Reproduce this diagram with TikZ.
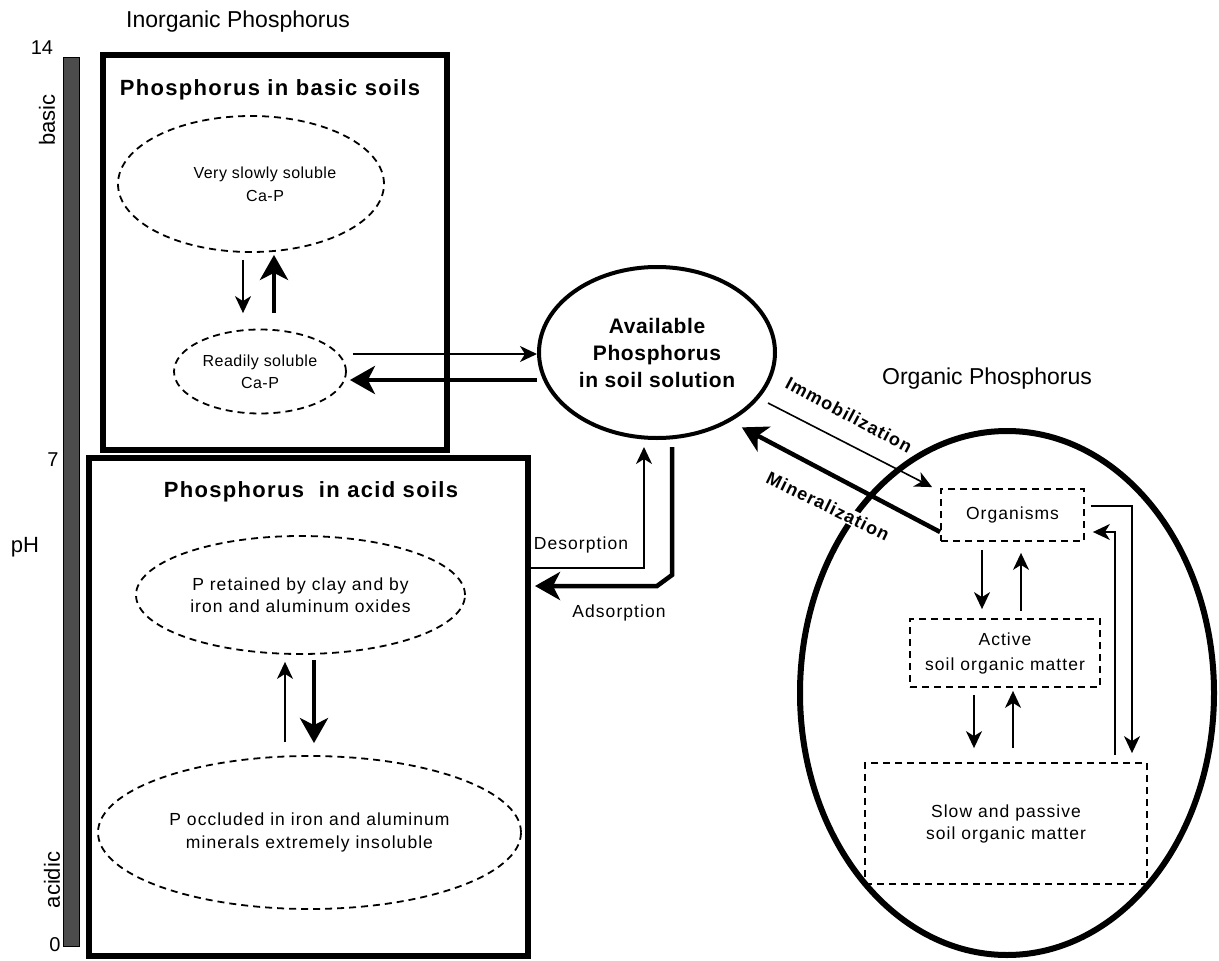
\documentclass[tikz,border=0pt]{standalone}
\usepackage{fontspec}
\setmainfont{Liberation Sans}
\newfontfamily\lsA[LetterSpace=6]{Liberation Sans}
\newfontfamily\lsB[LetterSpace=3]{Liberation Sans}
\usetikzlibrary{arrows.meta,shapes.geometric}
\newcommand\fsz[2]{\fontsize{#1}{#2}\selectfont}
\begin{document}
\begin{tikzpicture}[x=1pt,y=-1pt,
  thinarr/.style={line width=1.6pt,-{Stealth[length=17pt,width=16pt,inset=5pt]}},
  thickarr/.style={line width=4.5pt,-{Stealth[length=25pt,width=28pt,inset=7pt]}},
  soilbox/.style={draw,line width=6pt,rectangle,inner sep=0pt},
  dashell/.style={draw,ellipse,line width=1.8pt,dash pattern=on 7pt off 5pt,inner sep=0pt,align=center},
  dashbox/.style={draw,rectangle,line width=1.8pt,dash pattern=on 7pt off 5pt,inner sep=0pt,align=center},
  title/.style={font={\lsA\bfseries\fsz{22}{26}},inner sep=0pt},
  plain/.style={font={\fsz{22}{26}},inner sep=0pt},
  small/.style={font={\lsA\fsz{17.5}{22}},inner sep=0pt,align=center},
  flowlbl/.style={font={\lsA\bfseries\fsz{18}{22}},inner sep=1pt,fill=white}
]
\useasboundingbox (0,0) rectangle (1219,961);

% pH scale
\node[draw=black,line width=1pt,fill=black!70,minimum width=16pt,minimum height=889pt,inner sep=0pt] (phbar) at (71,501.5) {};
\node[plain,font={\fsz{20}{24}}] (n14) at (42,48) {14};
\node[plain,font={\fsz{20}{24}}] (n7) at (53,460) {7};
\node[plain,font={\fsz{20}{24}}] (n0) at (55,945) {0};
\node[plain,rotate=90] (basic) at (47,120) {basic};
\node[plain,rotate=90] (acidic) at (52,880) {acidic};
\node[plain] (ph) at (25,547) {pH};

% section titles
\node[plain,font={\fsz{23}{27}}] (inorg) at (238,22) {Inorganic Phosphorus};
\node[plain,font={\fsz{23}{27}}] (orgtitle) at (987,379) {Organic Phosphorus};

% basic soils
\node[soilbox,minimum width=343.5pt,minimum height=395pt] (basicbox) at (274.75,252.5) {};
\node[title] (tbasic) at (270,90) {Phosphorus in basic soils};
\node[dashell,minimum width=266pt,minimum height=136pt,font={\lsB\fsz{16}{23}}] (vs) at (251,184) {\hspace*{28pt}Very slowly soluble\\\hspace*{28pt}Ca-P};
\node[dashell,minimum width=172pt,minimum height=84pt,font={\lsB\fsz{16}{22}}] (rs) at (260,371.5) {Readily soluble\\Ca-P};

% acid soils
\node[soilbox,minimum width=439pt,minimum height=498pt] (acidbox) at (308.5,707) {};
\node[title] (tacid) at (311,492) {Phosphorus\ \ in acid soils};
\node[dashell,small,minimum width=329pt,minimum height=118pt,draw] (pr) at (300.5,595) {P retained by clay and by\\iron and aluminum oxides};
\node[dashell,small,minimum width=423pt,minimum height=153pt,draw,font={\lsA\fsz{17.5}{23}}] (po) at (309.5,832.5) {P occluded in iron and aluminum\\minerals extremely insoluble};

% available
\node[draw,ellipse,line width=4pt,minimum width=236pt,minimum height=171pt,inner sep=0pt,align=center,font={\lsB\bfseries\fsz{21}{27}}] (av) at (657,352.5) {Available\\Phosphorus\\in soil solution};

% organic
\node[draw,ellipse,line width=6pt,minimum width=414pt,minimum height=524pt,inner sep=0pt] (orgell) at (1007,693) {};
\node[dashbox,small,minimum width=143pt,minimum height=52pt] (org) at (1012.5,515) {Organisms};
\node[dashbox,small,minimum width=190pt,minimum height=68pt,font={\lsA\fsz{17.5}{25}}] (act) at (1005,653) {Active\\soil organic matter};
\node[dashbox,small,minimum width=282pt,minimum height=121pt] (slow) at (1006,823.5) {Slow and passive\\soil organic matter};

% arrows in basic box
\draw[thinarr] ([xshift=-8pt,yshift=-7pt]vs.south) -- ([xshift=-17pt,yshift=15.5pt]rs.north);
\draw[thickarr] ([xshift=14pt,yshift=15.5pt]rs.north) -- ([xshift=23pt,yshift=-2pt]vs.south);

% arrows in acid box
\draw[thinarr] ([xshift=-24.5pt,yshift=13pt]po.north) -- ([xshift=-15.5pt,yshift=-7pt]pr.south);
\draw[thickarr] ([xshift=13.5pt,yshift=-5pt]pr.south) -- ([xshift=4.5pt,yshift=12pt]po.north);

% exchange with readily soluble
\draw[thinarr] ([xshift=6pt,yshift=17.5pt]rs.east) -- ([yshift=-1.5pt]av.west);
\draw[thickarr] ([yshift=-27.5pt]av.west) -- ([xshift=3pt,yshift=-8.5pt]rs.east);

% desorption / adsorption
\draw[thinarr] ([yshift=139pt]acidbox.east) -| ([xshift=-13pt,yshift=-7pt]av.south);
\draw[thickarr] ([xshift=15pt,yshift=-7pt]av.south) -- ++(0,128) -- ++(-15,11) -- ([xshift=4pt,yshift=121pt]acidbox.east);
\node[small] (desorp) at (581,545) {Desorption};
\node[small] (adsorp) at (619,613) {Adsorption};

% immobilization / mineralization
\draw[thinarr] ([xshift=-9pt,yshift=-50.5pt]av.east) -- ([xshift=-8pt,yshift=1pt]org.north west);
\draw[thickarr] ([yshift=-17pt]org.west) -- ([yshift=-13pt]av.south east);
\node[flowlbl,rotate=-28] (immob) at (849,415) {Immobilization};
\node[flowlbl,rotate=-26] (miner) at (828,506) {Mineralization};

% organic cycle
\draw[thinarr] ([xshift=-30.5pt,yshift=-8pt]org.south) -- ([xshift=-23pt,yshift=9pt]act.north);
\draw[thinarr] ([xshift=16pt,yshift=7pt]act.north) -- ([xshift=8.5pt,yshift=-11pt]org.south);
\draw[thinarr] ([xshift=-31pt,yshift=-7pt]act.south) -- ([xshift=-32pt,yshift=14pt]slow.north);
\draw[thinarr] ([xshift=7pt,yshift=14pt]slow.north) -- ([xshift=8pt,yshift=-3pt]act.south);
\draw[thinarr] ([xshift=6pt,yshift=9pt]org.east) -| ([xshift=126pt,yshift=9pt]slow.north);
\draw[thinarr] ([xshift=109pt,yshift=7pt]slow.north) |- ([xshift=8pt,yshift=-17pt]org.east);
\end{tikzpicture}
\end{document}
